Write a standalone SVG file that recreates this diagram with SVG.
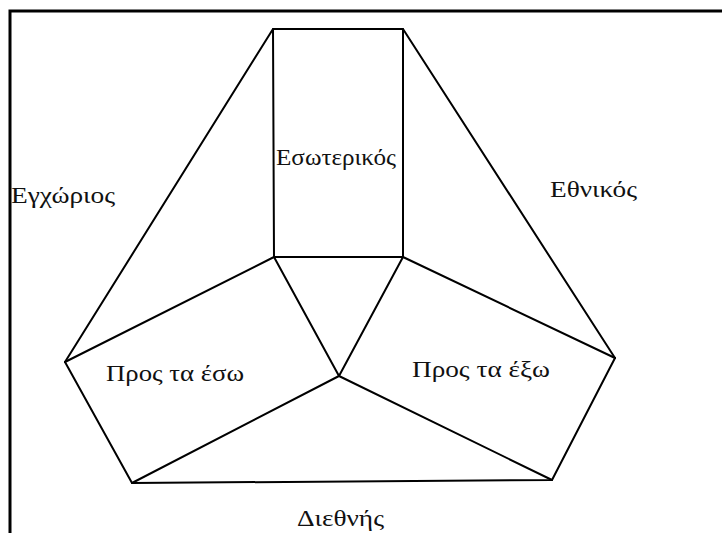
<svg xmlns="http://www.w3.org/2000/svg" width="722" height="533" viewBox="0 0 722 533">
<style>
.ln{stroke:#000;stroke-width:2;fill:none;stroke-linejoin:round;stroke-linecap:round}
.fr{stroke:#000;stroke-width:3;fill:none}
.t{font-family:"Liberation Serif","DejaVu Serif",serif;font-size:23px;fill:#111}
</style>
<rect width="722" height="533" fill="#fff"/>
<g id="frame">
<path class="fr" d="M10,533 V11 H722"/>
</g>
<g id="connectors">
<path class="ln" d="M273,29 L403,29 L403,257 L274,257 Z"/>
<path class="ln" d="M273,29 L65,362"/>
<path class="ln" d="M403,29 L615,358"/>
<path class="ln" d="M274,257 L65,362"/>
<path class="ln" d="M403,257 L615,358"/>
<path class="ln" d="M274,257 L339,376 L403,257"/>
<path class="ln" d="M65,362 L132,483 L552,480 L615,358"/>
<path class="ln" d="M132,483 L339,376 L552,480"/>
</g>
<g id="esoterikos"><text class="t" x="276" y="165" textLength="120" lengthAdjust="spacingAndGlyphs">Εσωτερικός</text></g>
<g id="egxorios"><text class="t" x="11" y="203" textLength="104" lengthAdjust="spacingAndGlyphs">Εγχώριος</text></g>
<g id="ethnikos"><text class="t" x="550" y="197" textLength="87" lengthAdjust="spacingAndGlyphs">Εθνικός</text></g>
<g id="pros-ta-eso"><text class="t" x="106" y="381" textLength="138" lengthAdjust="spacingAndGlyphs">Προς τα έσω</text></g>
<g id="pros-ta-exo"><text class="t" x="412" y="377" textLength="138" lengthAdjust="spacingAndGlyphs">Προς τα έξω</text></g>
<g id="diethnis"><text class="t" x="297" y="526" textLength="87" lengthAdjust="spacingAndGlyphs">Διεθνής</text></g>
</svg>
